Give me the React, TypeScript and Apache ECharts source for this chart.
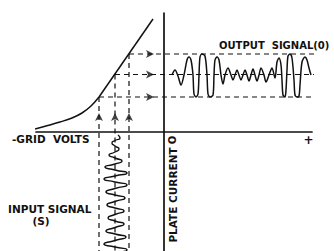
import React, { useEffect, useRef } from "react";
import * as echarts from "echarts";

// Transfer characteristic (grid volts vs plate current), origin at the axes' crossing
const bendVolts = [-129, -118, -104, -92, -82, -73, -65];
const bendCurrent = [3, 6, 10, 14, 19, 26, 35];
const slopeVolts = [-65, -11];
const slopeCurrent = [35, 113];

// Operating swing: three grid-volt points and the plate-current levels they give
const swingVolts = [-65, -49, -35];
const swingCurrent = [35, 57.5, 78];
const dashEndVolts = 158;
const dashBottomCurrent = -119;
const arrowUpCurrent = 19;
const arrowRightVolts = -10;

// Input signal (S): grid volts along a downward time axis
const inputVolts = [-46, -44, -49, -52, -49, -45, -49, -55, -49, -42, -49, -59, -49, -37, -49, -60, -49, -37, -49, -58, -49, -39, -49, -57, -49, -40, -49, -56, -49, -40, -49, -58, -49, -38, -49, -60, -49, -37, -44];
const inputTime = [-3, -6, -8.5, -11, -14, -17, -20, -23, -26, -29, -32, -35, -38, -41, -44, -47, -50, -53, -56.5, -60, -63, -66, -69.5, -73, -76, -79, -82.5, -86, -89, -92, -95.5, -99, -102, -105, -108.5, -112, -115, -118, -120];

// Output signal (0): plate current along a rightward time axis
const outputTime = [8, 11, 14, 17, 20, 23, 25, 27, 29, 30, 32, 34, 35, 36, 38, 41, 43, 44, 46, 49, 50, 51, 53, 55, 57, 59, 61, 64, 67, 69, 71, 73, 75, 77, 79, 81, 83, 85, 87, 89, 91, 93, 95, 97, 100, 102, 105, 108, 111, 113, 115, 117, 118, 119, 121, 122, 123, 124, 126, 128, 130, 131, 133, 135, 136, 138, 141, 143, 145, 147];
const outputCurrent = [57, 62, 56, 47, 57, 72, 75, 72, 57, 38, 35, 38, 57, 75, 78, 76, 57, 38, 35, 37, 57, 72, 75, 72, 57, 48, 57, 64, 57, 52, 57, 62, 57, 52, 57, 62, 57, 51, 57, 63, 57, 51, 57, 64, 57, 50, 57, 64, 54, 70, 74, 67, 52, 37, 35, 42, 62, 76, 78, 74, 52, 37, 35, 36, 47, 70, 75, 72, 64, 57];

const pairs = (xs: number[], ys: number[]) => xs.map((x, i) => [x, ys[i]]);

export default function App() {
  const ref = useRef<HTMLDivElement>(null);
  useEffect(() => {
    if (!ref.current) return;
    const chart = echarts.init(ref.current, undefined, { renderer: "svg" });
    const ink = "#111";
    const solid = { color: ink, width: 1.5 };
    const dashed = { color: ink, width: 1.2, type: [5, 4] as number[] };
    const series: any[] = [];
    series.push({ type: "line", data: pairs(bendVolts, bendCurrent), smooth: 0.4, symbol: "none", lineStyle: solid, clip: false });
    series.push({ type: "line", data: pairs(slopeVolts, slopeCurrent), symbol: "none", lineStyle: solid, clip: false });
    swingVolts.forEach((v, i) => {
      series.push({ type: "line", data: [[v, swingCurrent[i]], [v, dashBottomCurrent]], symbol: "none", lineStyle: dashed, clip: false });
      series.push({ type: "line", data: [[v, swingCurrent[i]], [dashEndVolts, swingCurrent[i]]], symbol: "none", lineStyle: dashed, clip: false });
    });
    series.push({ type: "line", data: pairs(inputVolts, inputTime), smooth: 0.7, symbol: "none", lineStyle: { color: ink, width: 1.4 }, clip: false });
    series.push({ type: "line", data: pairs(outputTime, outputCurrent), smooth: 0.3, symbol: "none", lineStyle: { color: ink, width: 1.5 }, clip: false });
    series.push({
      type: "scatter",
      data: swingVolts.map((v) => [v, arrowUpCurrent]),
      symbol: "arrow",
      symbolSize: [6, 8],
      itemStyle: { color: ink },
      clip: false,
    });
    series.push({
      type: "scatter",
      data: swingCurrent.map((c) => [arrowRightVolts, c]),
      symbol: "arrow",
      symbolRotate: -90,
      symbolSize: [6, 8],
      itemStyle: { color: ink },
      clip: false,
    });

    const text = (t: string, x: number, y: number, align: string, size: number, extra: any = {}) => ({
      type: "text",
      x,
      y,
      ...extra,
      style: {
        text: t,
        font: `bold ${size}px 'DejaVu Sans', sans-serif`,
        fill: ink,
        textAlign: align,
        textVerticalAlign: "middle",
      },
    });

    chart.setOption({
      animation: false,
      grid: { left: 36, top: 13, width: 276, height: 238, containLabel: false },
      xAxis: {
        type: "value",
        min: -128,
        max: 148,
        axisLine: { show: true, onZero: true, lineStyle: { color: ink, width: 1.7 } },
        axisTick: { show: false },
        axisLabel: { show: false },
        splitLine: { show: false },
      },
      yAxis: {
        type: "value",
        min: -119,
        max: 119,
        axisLine: { show: true, onZero: true, lineStyle: { color: ink, width: 1.7 } },
        axisTick: { show: false },
        axisLabel: { show: false },
        splitLine: { show: false },
      },
      series,
      graphic: [
        text("OUTPUT  SIGNAL(0)", 219, 45, "left", 10),
        text("-GRID  VOLTS", 12, 139, "left", 10.5),
        text("INPUT SIGNAL", 8, 209, "left", 10.5),
        text("(S)", 41, 221, "center", 10.5),
        text("O", 172, 140, "center", 10, { rotation: Math.PI / 2 }),
        text("PLATE CURRENT", 172.5, 195, "center", 10.5, { rotation: Math.PI / 2 }),
        text("+", 308.5, 140, "center", 12),
      ],
    });
    return () => chart.dispose();
  }, []);
  return <div ref={ref} style={{ position: "absolute", left: 0, top: 0, width: 334, height: 251, background: "#fff" }} />;
}
